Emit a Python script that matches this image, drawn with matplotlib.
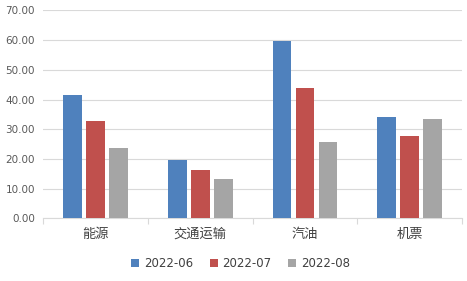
import matplotlib.pyplot as plt
import numpy as np

plt.rcParams['font.family'] = ['Noto Sans CJK SC', 'DejaVu Sans']

categories = ['能源', '交通运输', '汽油', '机票']
series_names = ['2022-06', '2022-07', '2022-08']
v_2022_06 = [41.5, 19.6, 59.7, 34.1]
v_2022_07 = [32.8, 16.3, 43.9, 27.7]
v_2022_08 = [23.7, 13.2, 25.7, 33.5]
colors = ['#4F81BD', '#C0504D', '#A5A5A5']

fig = plt.figure(figsize=(4.67, 2.81), dpi=100)
ax = fig.add_axes([0.093, 0.223, 0.896, 0.740])

x = np.arange(len(categories))
step = 0.22
width = 0.177
for i, (vals, name) in enumerate(zip([v_2022_06, v_2022_07, v_2022_08], series_names)):
    ax.bar(x + (i - 1) * step, vals, width, color=colors[i], label=name, zorder=3)

ax.set_xlim(-0.5, len(categories) - 0.5)
ax.set_ylim(0, 70)
ax.set_yticks(np.arange(0, 71, 10))
ax.set_yticklabels(['%.2f' % v for v in np.arange(0, 71, 10)])
ax.yaxis.grid(True, color='#D9D9D9', linewidth=0.8, zorder=0)

ax.set_xticks(x)
ax.set_xticklabels(categories)
ax.set_xticks(np.arange(-0.5, len(categories), 1), minor=True)
ax.tick_params(axis='x', which='major', length=0, labelsize=9.5, labelcolor='#404040', pad=7)
ax.tick_params(axis='x', which='minor', length=4, color='#D9D9D9', width=0.8)
ax.tick_params(axis='y', length=0, labelsize=7.5, labelcolor='#595959', pad=6)
for lab in ax.get_yticklabels():
    lab.set_family('DejaVu Sans')

for s in ['top', 'right', 'left']:
    ax.spines[s].set_visible(False)
ax.spines['bottom'].set_color('#D9D9D9')
ax.spines['bottom'].set_linewidth(0.8)

leg = fig.legend(loc='lower center', bbox_to_anchor=(0.515, 0.0), ncol=3, frameon=False,
                 fontsize=8.5, handlelength=0.7, handleheight=0.7, handletextpad=0.4,
                 columnspacing=1.4)
for t in leg.get_texts():
    t.set_color('#404040')
    t.set_family('DejaVu Sans')

fig.savefig('out.png', dpi=100)
